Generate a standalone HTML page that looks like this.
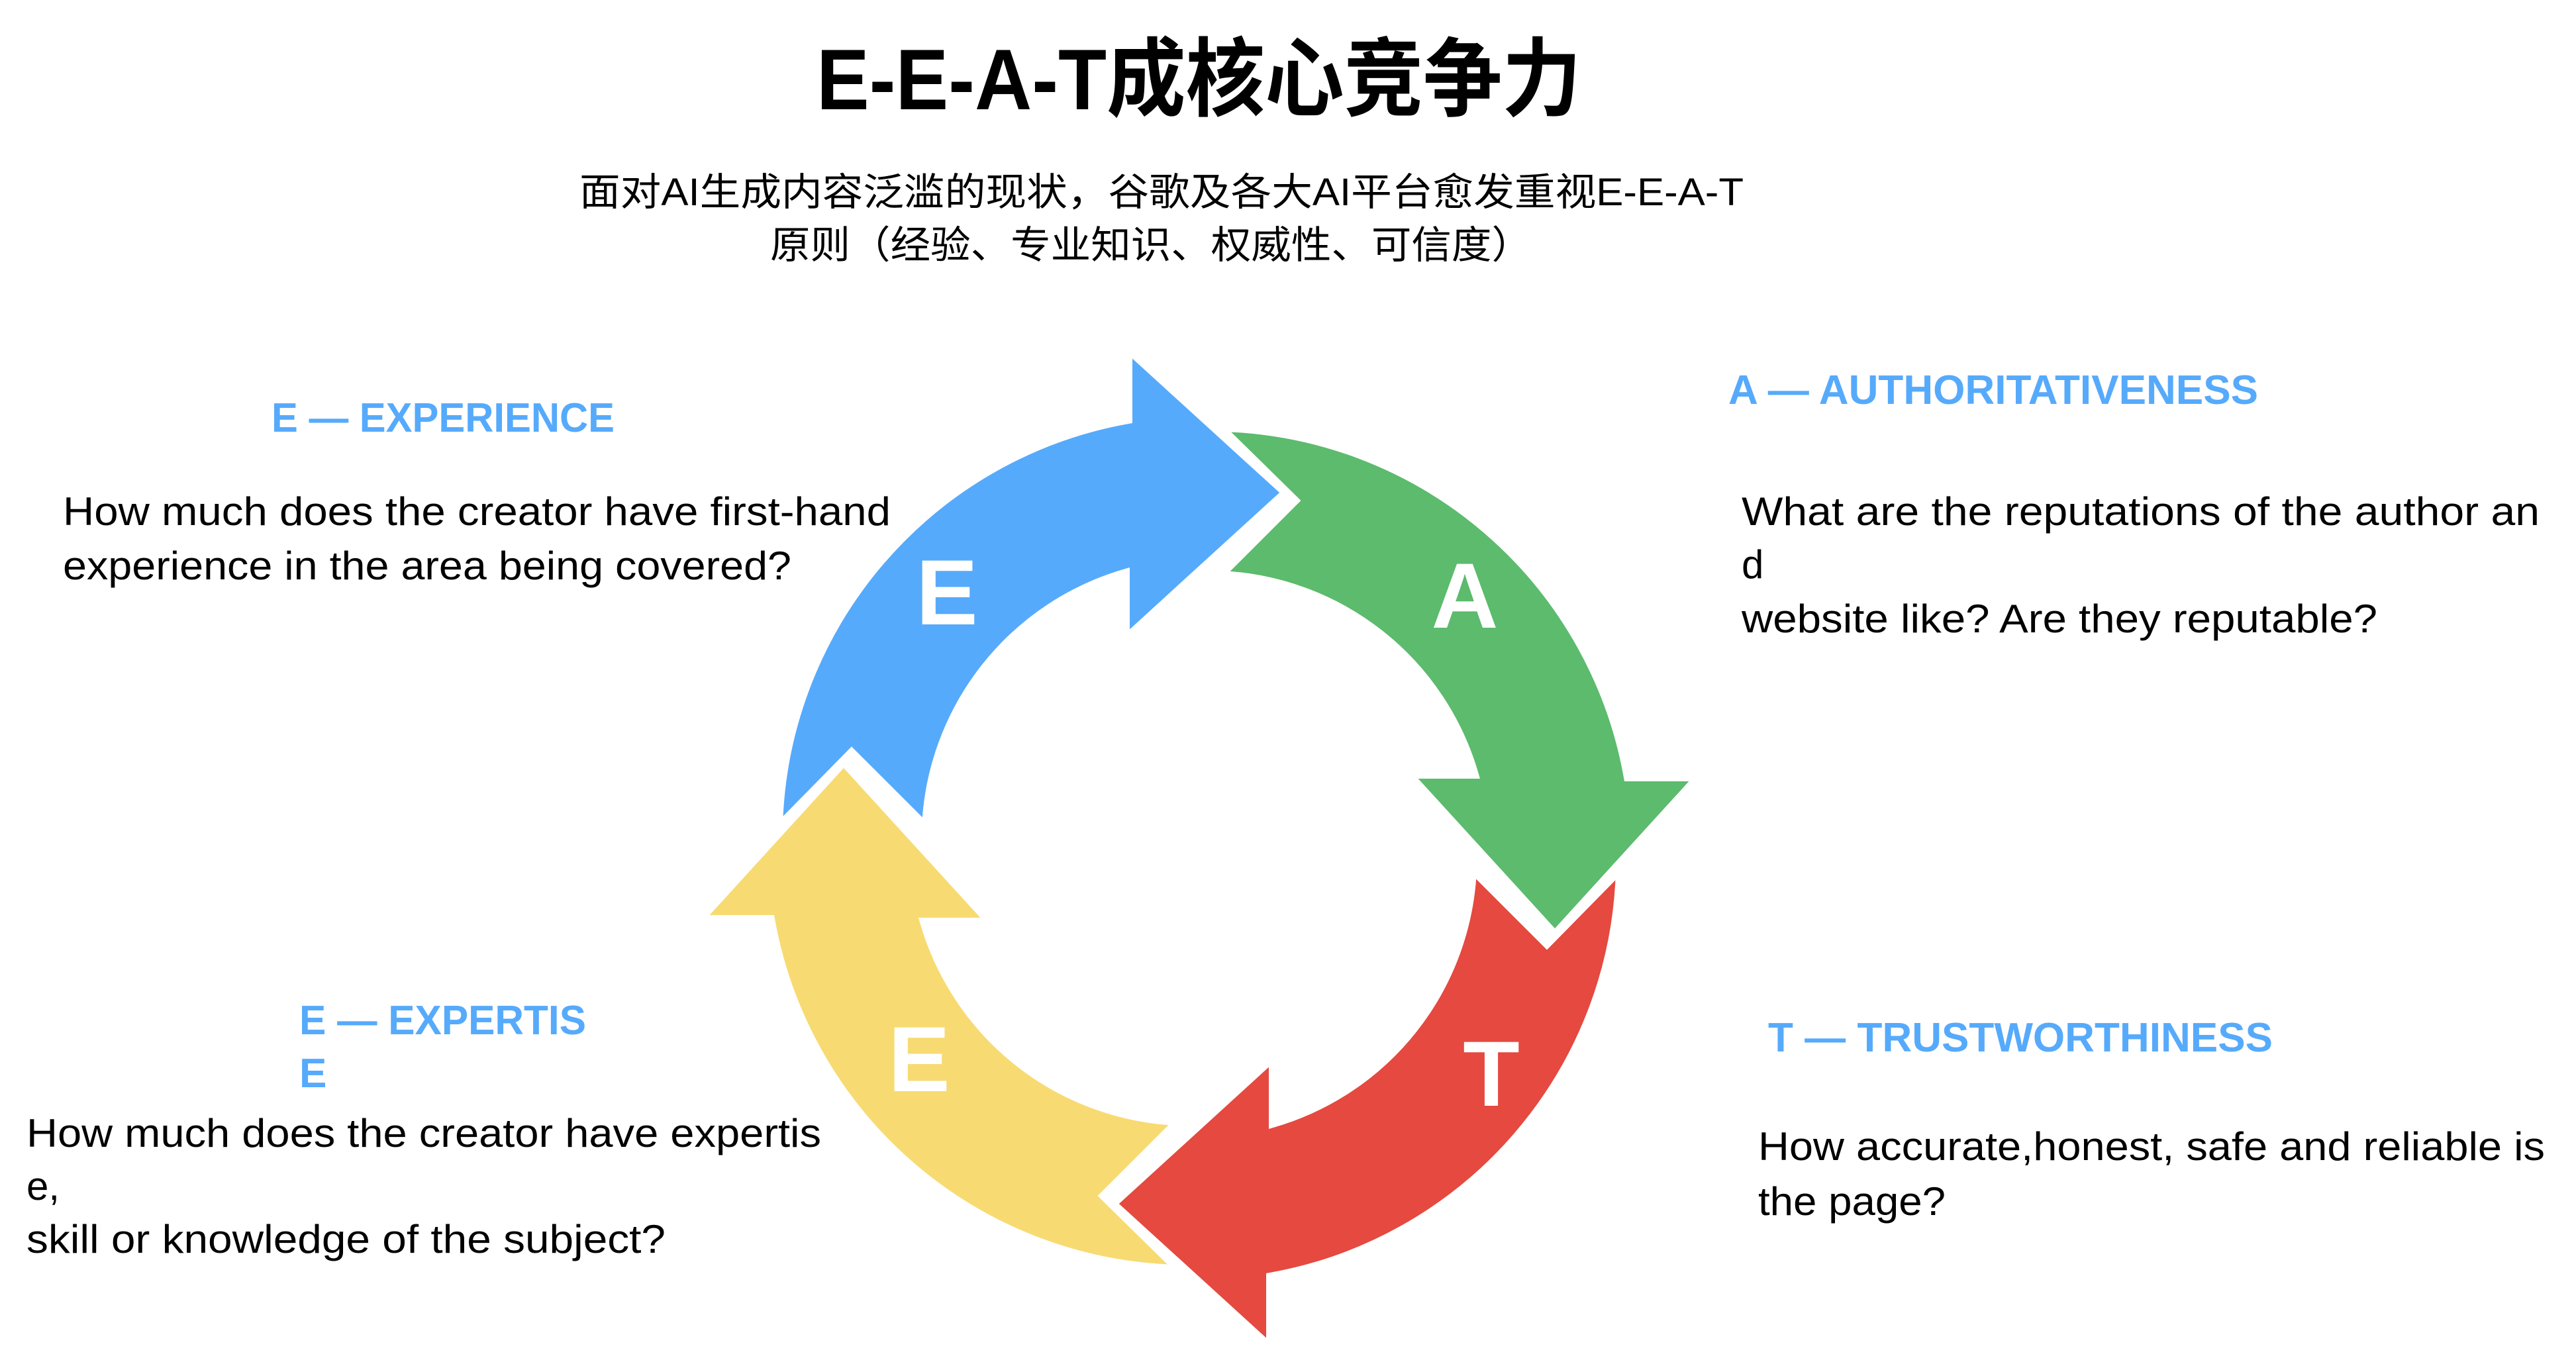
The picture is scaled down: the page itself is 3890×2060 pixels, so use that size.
<!DOCTYPE html>
<html><head><meta charset="utf-8"><style>html,body{margin:0;padding:0;background:#fff}svg{display:block}</style></head>
<body>
<svg width="3890" height="2060" viewBox="0 0 3890 2060" xmlns="http://www.w3.org/2000/svg">
<rect width="3890" height="2060" fill="#fff"/>
<defs>
<path id="arr" d="M 1180 1260 A 640 640 0 0 1 1708 646 L 1708 540 L 1945 756 L 1704 976 L 1704 877 A 418 418 0 0 0 1402 1260 L 1290 1148 Z"/>
</defs>
<g stroke="#fff" stroke-width="12" stroke-linejoin="miter" transform="translate(-4,-12)">
<use href="#arr" fill="#f7db72" transform="rotate(270 1815 1293)"/>
<use href="#arr" fill="#e5493f" transform="rotate(180 1815 1293)"/>
<use href="#arr" fill="#5cbb6d" transform="rotate(90 1815 1293)"/>
<use href="#arr" fill="#56aafb"/>
</g>
<g font-family="Liberation Sans, sans-serif" font-weight="bold" font-size="140" fill="#fff" text-anchor="middle">
<text x="1430" y="943">E</text>
<text x="2212" y="948">A</text>
<text x="2252" y="1670">T</text>
<text x="1388" y="1648">E</text>
</g>
<g font-family="Liberation Sans, Noto Sans CJK SC, sans-serif" fill="#000">
<text x="1233" y="165" font-size="130" font-weight="bold" textLength="1155" lengthAdjust="spacingAndGlyphs">E-E-A-T成核心竞争力</text>
<text x="875" y="310" font-size="58" textLength="1758" lengthAdjust="spacingAndGlyphs">面对AI生成内容泛滥的现状，谷歌及各大AI平台愈发重视E-E-A-T</text>
<text x="1163" y="390" font-size="58" textLength="1150" lengthAdjust="spacingAndGlyphs">原则（经验、专业知识、权威性、可信度）</text>
</g>
<g font-family="Liberation Sans, sans-serif" font-weight="bold" font-size="62" fill="#56aafb">
<text x="410" y="652" textLength="518" lengthAdjust="spacingAndGlyphs">E — EXPERIENCE</text>
<text x="2610" y="610" textLength="800" lengthAdjust="spacingAndGlyphs">A — AUTHORITATIVENESS</text>
<text x="2670" y="1588" textLength="762" lengthAdjust="spacingAndGlyphs">T — TRUSTWORTHINESS</text>
<text x="452" y="1562" textLength="433" lengthAdjust="spacingAndGlyphs">E — EXPERTIS</text>
<text x="452" y="1642">E</text>
</g>
<g font-family="Liberation Sans, sans-serif" font-size="60" fill="#000">
<text x="95" y="793" textLength="1250" lengthAdjust="spacingAndGlyphs">How much does the creator have first-hand</text>
<text x="95" y="875" textLength="1100" lengthAdjust="spacingAndGlyphs">experience in the area being covered?</text>
<text x="2630" y="793" textLength="1205" lengthAdjust="spacingAndGlyphs">What are the reputations of the author an</text>
<text x="2630" y="873">d</text>
<text x="2630" y="955" textLength="960" lengthAdjust="spacingAndGlyphs">website like? Are they reputable?</text>
<text x="2655" y="1752" textLength="1188" lengthAdjust="spacingAndGlyphs">How accurate,honest, safe and reliable is</text>
<text x="2655" y="1835" textLength="283" lengthAdjust="spacingAndGlyphs">the page?</text>
<text x="40" y="1732" textLength="1200" lengthAdjust="spacingAndGlyphs">How much does the creator have expertis</text>
<text x="40" y="1812">e,</text>
<text x="40" y="1892" textLength="965" lengthAdjust="spacingAndGlyphs">skill or knowledge of the subject?</text>
</g>
</svg>
</body></html>
